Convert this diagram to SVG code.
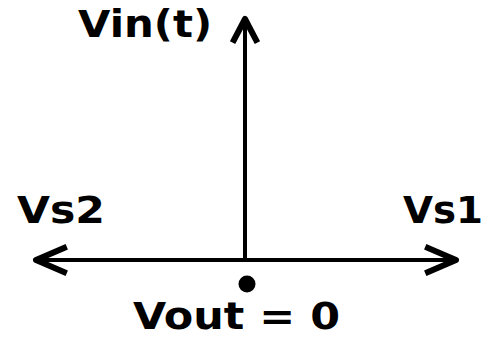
<svg xmlns="http://www.w3.org/2000/svg" width="490" height="341" viewBox="0 0 490 341">
<style>
text{font-family:"DejaVu Sans","Liberation Sans",sans-serif;font-weight:bold;font-size:37px;fill:#000}
.ax{stroke:#000;stroke-width:4;fill:none}
.hd{stroke:#000;stroke-width:6;fill:none;stroke-linejoin:round;stroke-linecap:square}
</style>
<rect width="490" height="341" fill="#fff"/>
<g id="connectors">
<line class="ax" x1="245" y1="22" x2="245" y2="260"/>
<line class="ax" x1="36" y1="260" x2="456" y2="260"/>
<polyline class="hd" points="234,40 245,19 256,40"/>
<polyline class="hd" points="64,248 36,260 64,272"/>
<polyline class="hd" points="428,248 456,260 428,272"/>
</g>
<g id="vin"><text x="78" y="37" textLength="134" lengthAdjust="spacingAndGlyphs">Vin(t)</text></g>
<g id="vs2"><text x="17" y="223" textLength="88" lengthAdjust="spacingAndGlyphs">Vs2</text></g>
<g id="vs1"><text x="403" y="223" textLength="80" lengthAdjust="spacingAndGlyphs">Vs1</text></g>
<g id="vout">
<circle cx="247" cy="284" r="8.5" fill="#000"/>
<text x="133" y="329" font-size="29" textLength="207" lengthAdjust="spacingAndGlyphs">Vout = 0</text>
</g>
</svg>
